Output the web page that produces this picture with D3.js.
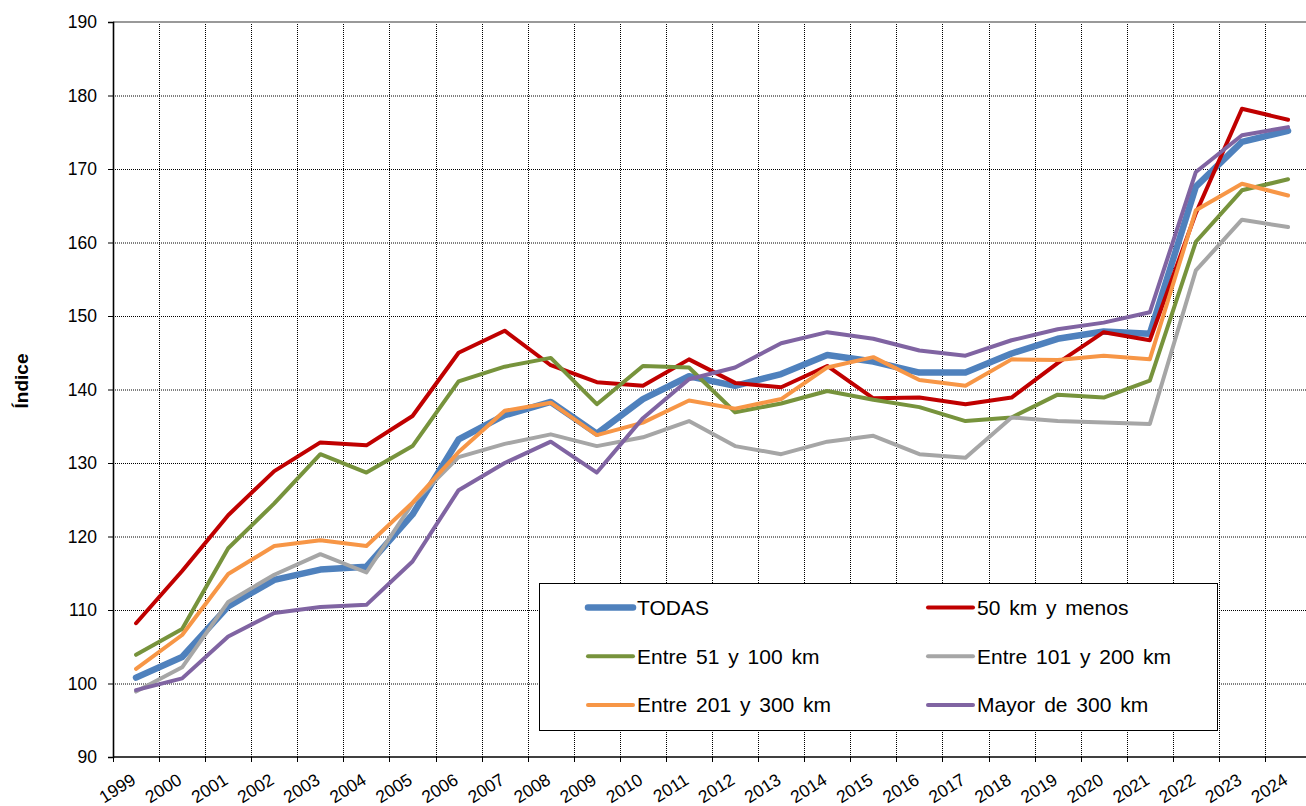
<!DOCTYPE html>
<html>
<head>
<meta charset="utf-8">
<script src="https://cdn.jsdelivr.net/npm/d3@7"></script>
<style>
  body { margin: 0; background: #fff; }
  text { font-family: Arial, "Liberation Sans", sans-serif; fill: #000; }
</style>
</head>
<body>
<div id="grafiek"></div>
<script>
var jaren = ["1999","2000","2001","2002","2003","2004","2005","2006","2007","2008","2009","2010","2011",
             "2012","2013","2014","2015","2016","2017","2018","2019","2020","2021","2022","2023","2024"];

var todas    = [100.8,103.6,110.5,114.1,115.5,115.9,123.0,133.2,136.5,138.3,134.0,138.7,141.8,
                140.5,142.1,144.7,143.8,142.3,142.3,144.9,146.9,147.9,147.6,167.6,173.7,175.2];
var menos50  = [108.2,115.3,122.9,128.9,132.8,132.4,136.4,145.0,148.0,143.3,141.0,140.5,144.1,
                140.9,140.3,143.2,138.8,138.9,138.0,138.9,143.6,147.8,146.7,164.0,178.2,176.7];
var entre51  = [103.9,107.4,118.4,124.5,131.2,128.7,132.3,141.1,143.1,144.3,138.0,143.2,143.0,
                136.9,138.1,139.8,138.6,137.6,135.7,136.2,139.3,138.9,141.2,160.1,167.1,168.6];
var entre101 = [98.9,102.2,111.1,114.8,117.6,115.1,124.5,130.8,132.6,133.9,132.3,133.5,135.7,
                132.3,131.2,132.9,133.7,131.2,130.7,136.2,135.7,135.5,135.3,156.2,163.1,162.1];
var entre201 = [102.0,106.6,114.9,118.7,119.5,118.7,124.6,131.5,137.1,138.2,133.8,135.5,138.5,
                137.4,138.7,143.0,144.4,141.3,140.5,144.1,144.0,144.6,144.1,164.4,168.0,166.4];
var mayor300 = [99.1,100.7,106.4,109.6,110.4,110.7,116.6,126.3,130.0,132.9,128.7,136.1,141.4,
                143.0,146.3,147.8,146.9,145.3,144.6,146.7,148.2,149.1,150.5,169.6,174.6,175.7];

var yTicks = [90,100,110,120,130,140,150,160,170,180,190];

var reeksen = [
  {naam: "TODAS",              waarden: todas,    kleur: "#4F81BD", dikte: 6.5},
  {naam: "50 km y menos",      waarden: menos50,  kleur: "#C00000", dikte: 4},
  {naam: "Entre 51 y 100 km",  waarden: entre51,  kleur: "#77933C", dikte: 4},
  {naam: "Entre 101 y 200 km", waarden: entre101, kleur: "#A6A6A6", dikte: 4},
  {naam: "Entre 201 y 300 km", waarden: entre201, kleur: "#F79646", dikte: 4},
  {naam: "Mayor de 300 km",    waarden: mayor300, kleur: "#8064A2", dikte: 4}
];

var breedte = 1306, hoogte = 806;
var marge = {links: 113, boven: 22, onder: 49};

var svg = d3.select("#grafiek").append("svg")
            .attr("width", breedte)
            .attr("height", hoogte);

// schalen
var x = d3.scaleBand()
          .domain(jaren)
          .range([marge.links, marge.links + 26 * 46.08])
          .paddingInner(0).paddingOuter(0);
var y = d3.scaleLinear()
          .domain([90, 190])
          .range([hoogte - marge.onder, marge.boven]);
var midden = function(j) { return x(j) + x.bandwidth() / 2; };

// rasterlijnen
svg.append("g").selectAll("line")
   .data(yTicks.filter(function(d) { return d > 90 && d < 190; }))
   .enter().append("line")
   .attr("x1", marge.links).attr("x2", breedte)
   .attr("y1", function(d) { return y(d) + 0.5; })
   .attr("y2", function(d) { return y(d) + 0.5; })
   .attr("stroke", "#000").attr("stroke-width", 1)
   .attr("stroke-dasharray", "1,1");

svg.append("g").selectAll("line")
   .data(jaren.slice(1))
   .enter().append("line")
   .attr("x1", function(d) { return Math.round(x(d)) + 0.5; })
   .attr("x2", function(d) { return Math.round(x(d)) + 0.5; })
   .attr("y1", y(190)).attr("y2", y(90))
   .attr("stroke", "#000").attr("stroke-width", 1)
   .attr("stroke-dasharray", "1,1");

// bovenrand
svg.append("line")
   .attr("x1", marge.links).attr("x2", breedte)
   .attr("y1", y(190)).attr("y2", y(190))
   .attr("stroke", "#999").attr("stroke-width", 2);

// y-as
var yAs = svg.append("g")
             .attr("transform", "translate(" + marge.links + ",0)")
             .call(d3.axisLeft(y).tickValues(yTicks).tickSize(5).tickPadding(11));
yAs.select(".domain").attr("stroke", "#000").attr("stroke-width", 1.6);
yAs.selectAll(".tick line").attr("stroke", "#000");
yAs.selectAll("text").style("font-size", "17.5px")
   .style("font-family", "Arial, 'Liberation Sans', sans-serif");

// x-as
svg.append("line")
   .attr("x1", marge.links).attr("x2", breedte)
   .attr("y1", y(90)).attr("y2", y(90))
   .attr("stroke", "#000").attr("stroke-width", 1.6);

svg.append("g").selectAll("line")
   .data(jaren)
   .enter().append("line")
   .attr("x1", function(d) { return Math.round(x(d)) + 0.5; })
   .attr("x2", function(d) { return Math.round(x(d)) + 0.5; })
   .attr("y1", y(90)).attr("y2", y(90) + 5)
   .attr("stroke", "#000");

svg.append("g").selectAll("text")
   .data(jaren)
   .enter().append("text")
   .attr("text-anchor", "end")
   .attr("transform", function(d) {
     return "translate(" + (midden(d) + 1) + "," + 783 + ") rotate(-32)"; })
   .style("font-size", "17.5px")
   .text(function(d) { return d; });

// as-titel
svg.append("text")
   .attr("transform", "translate(28,381) rotate(-90)")
   .attr("text-anchor", "middle")
   .style("font-size", "19px")
   .style("font-weight", "bold")
   .text("Índice");

// lijnen
var lijn = d3.line()
             .x(function(d, i) { return midden(jaren[i]); })
             .y(function(d) { return y(d); });

svg.append("g").selectAll("path")
   .data(reeksen)
   .enter().append("path")
   .attr("d", function(d) { return lijn(d.waarden); })
   .attr("fill", "none")
   .attr("stroke", function(d) { return d.kleur; })
   .attr("stroke-width", function(d) { return d.dikte; })
   .attr("stroke-linejoin", "round")
   .attr("stroke-linecap", "round");

// legenda
var legenda = svg.append("g").attr("class", "legenda");
legenda.append("rect")
       .attr("x", 539.5).attr("y", 583.5)
       .attr("width", 678).attr("height", 147)
       .attr("fill", "#fff").attr("stroke", "#000").attr("stroke-width", 1);

var item = legenda.selectAll(".item")
                  .data(reeksen)
                  .enter().append("g")
                  .attr("class", "item")
                  .attr("transform", function(d, i) {
                    return "translate(" + (i % 2 === 0 ? 588 : 928) + "," + (607.5 + Math.floor(i / 2) * 48.7) + ")"; });

item.append("line")
    .attr("x1", 0).attr("x2", 45)
    .attr("stroke", function(d) { return d.kleur; })
    .attr("stroke-width", function(d) { return d.dikte; })
    .attr("stroke-linecap", "round");

item.append("text")
    .attr("x", 49)
    .attr("dy", "0.36em")
    .style("font-size", "21px")
    .style("word-spacing", "3px")
    .text(function(d) { return d.naam; });
</script>
</body>
</html>
